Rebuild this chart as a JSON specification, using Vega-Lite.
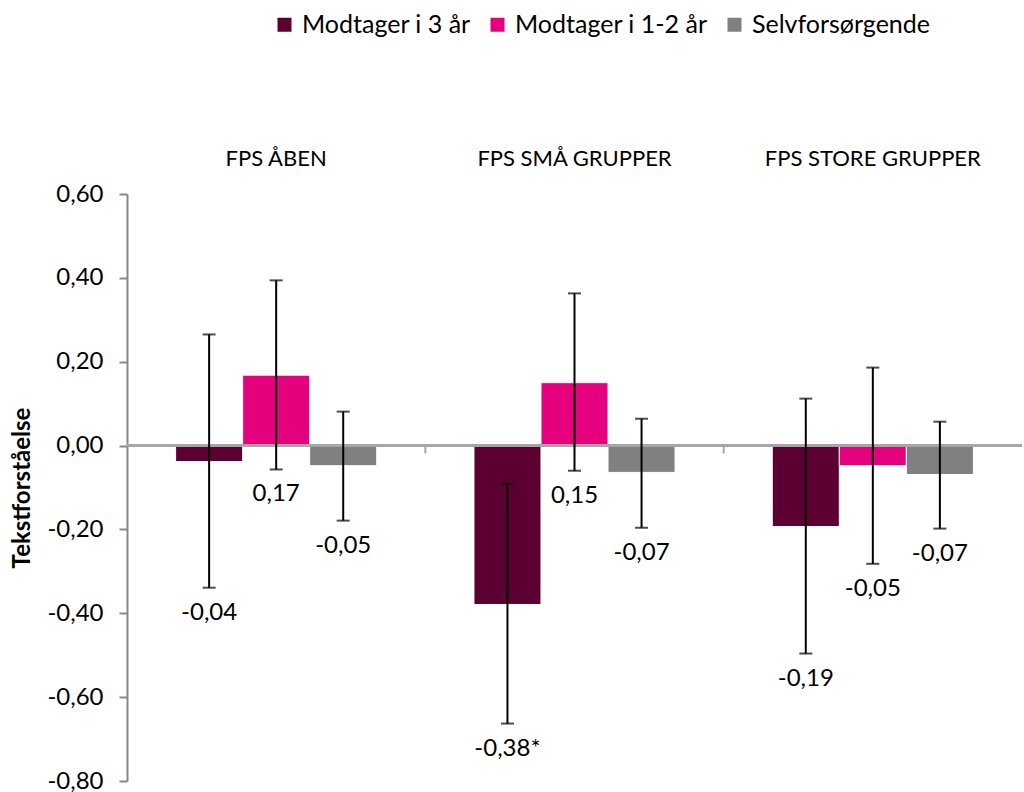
{
  "$schema": "https://vega.github.io/schema/vega-lite/v6.json",
  "width": 895,
  "height": 587,
  "autosize": {"type": "none"},
  "padding": {"left": 127, "top": 194, "right": 2, "bottom": 11},
  "background": "white",
  "config": {"font": "Lato", "view": {"stroke": null}},
  "data": {
    "values": [
      {"group": "FPS ÅBEN", "serie": "Modtager i 3 år", "value": -0.038, "lo": -0.339, "hi": 0.265, "label": "-0,04"},
      {"group": "FPS ÅBEN", "serie": "Modtager i 1-2 år", "value": 0.168, "lo": -0.057, "hi": 0.394, "label": "0,17"},
      {"group": "FPS ÅBEN", "serie": "Selvforsørgende", "value": -0.048, "lo": -0.179, "hi": 0.081, "label": "-0,05"},
      {"group": "FPS SMÅ GRUPPER", "serie": "Modtager i 3 år", "value": -0.379, "lo": -0.663, "hi": -0.091, "label": "-0,38*"},
      {"group": "FPS SMÅ GRUPPER", "serie": "Modtager i 1-2 år", "value": 0.15, "lo": -0.06, "hi": 0.363, "label": "0,15"},
      {"group": "FPS SMÅ GRUPPER", "serie": "Selvforsørgende", "value": -0.064, "lo": -0.196, "hi": 0.064, "label": "-0,07"},
      {"group": "FPS STORE GRUPPER", "serie": "Modtager i 3 år", "value": -0.193, "lo": -0.496, "hi": 0.112, "label": "-0,19"},
      {"group": "FPS STORE GRUPPER", "serie": "Modtager i 1-2 år", "value": -0.048, "lo": -0.282, "hi": 0.186, "label": "-0,05"},
      {"group": "FPS STORE GRUPPER", "serie": "Selvforsørgende", "value": -0.069, "lo": -0.198, "hi": 0.057, "label": "-0,07"}
    ]
  },
  "layer": [
    {
      "mark": {"type": "bar", "stroke": "white", "strokeWidth": 1},
      "encoding": {
        "x": {
          "field": "group", "type": "nominal",
          "sort": ["FPS ÅBEN", "FPS SMÅ GRUPPER", "FPS STORE GRUPPER"],
          "scale": {"paddingInner": 0, "paddingOuter": 0},
          "axis": {"orient": "top", "title": null, "domain": false, "ticks": false, "labelFontSize": 22, "labelAngle": 0, "labelPadding": 24, "labelColor": "black", "labelFont": "Lato", "labelLimit": 400}
        },
        "xOffset": {
          "field": "serie", "type": "nominal",
          "sort": ["Modtager i 3 år", "Modtager i 1-2 år", "Selvforsørgende"],
          "scale": {"paddingInner": 0, "paddingOuter": 0.725}
        },
        "y": {
          "field": "value", "type": "quantitative",
          "scale": {"domain": [-0.8, 0.6], "nice": false, "zero": false},
          "axis": {
            "values": [-0.8, -0.6, -0.4, -0.2, 0, 0.2, 0.4, 0.6],
            "labelExpr": "(datum.value < -0.0001 ? '-' : '') + replace(format(abs(datum.value), '.2f'), '.', ',')",
            "grid": false, "domainColor": "#888888", "domainWidth": 2, "tickColor": "#888888", "tickWidth": 2, "tickSize": 8,
            "labelFontSize": 24, "labelColor": "black", "labelPadding": 16,
            "title": "Tekstforståelse", "titleFontSize": 24, "titleFontWeight": "bold", "titleColor": "black", "titlePadding": 12
          }
        },
        "color": {
          "field": "serie", "type": "nominal",
          "sort": ["Modtager i 3 år", "Modtager i 1-2 år", "Selvforsørgende"],
          "scale": {"domain": ["Modtager i 3 år", "Modtager i 1-2 år", "Selvforsørgende"], "range": ["#5C0031", "#E5007D", "#808080"]},
          "legend": {
            "orient": "none", "legendX": 145, "legendY": -182, "direction": "horizontal", "title": null,
            "symbolType": "square", "symbolSize": 196, "symbolStrokeWidth": 0, "labelFontSize": 25, "labelColor": "black",
            "labelOffset": 5, "columnPadding": 14, "padding": 0, "labelLimit": 400
          }
        }
      }
    },
    {
      "mark": {"type": "rule", "color": "#A6A6A6", "strokeWidth": 2},
      "encoding": {"y": {"datum": 0}}
    },
    {
      "transform": [{"filter": "datum.serie == 'Selvforsørgende' && datum.group != 'FPS ÅBEN'"}],
      "mark": {"type": "rule", "color": "#A6A6A6", "strokeWidth": 2},
      "encoding": {
        "x": {"field": "group", "type": "nominal", "sort": ["FPS ÅBEN", "FPS SMÅ GRUPPER", "FPS STORE GRUPPER"], "bandPosition": 0},
        "y": {"datum": 0},
        "y2": {"datum": -0.019}
      }
    },
    {
      "mark": {"type": "rule", "color": "black", "strokeWidth": 2},
      "encoding": {
        "x": {"field": "group", "type": "nominal", "sort": ["FPS ÅBEN", "FPS SMÅ GRUPPER", "FPS STORE GRUPPER"]},
        "xOffset": {"field": "serie", "type": "nominal", "sort": ["Modtager i 3 år", "Modtager i 1-2 år", "Selvforsørgende"]},
        "y": {"field": "lo", "type": "quantitative"},
        "y2": {"field": "hi"}
      }
    },
    {
      "mark": {"type": "tick", "color": "black", "thickness": 2, "size": 13, "orient": "horizontal"},
      "encoding": {
        "x": {"field": "group", "type": "nominal", "sort": ["FPS ÅBEN", "FPS SMÅ GRUPPER", "FPS STORE GRUPPER"]},
        "xOffset": {"field": "serie", "type": "nominal", "sort": ["Modtager i 3 år", "Modtager i 1-2 år", "Selvforsørgende"]},
        "y": {"field": "lo", "type": "quantitative"}
      }
    },
    {
      "mark": {"type": "tick", "color": "black", "thickness": 2, "size": 13, "orient": "horizontal"},
      "encoding": {
        "x": {"field": "group", "type": "nominal", "sort": ["FPS ÅBEN", "FPS SMÅ GRUPPER", "FPS STORE GRUPPER"]},
        "xOffset": {"field": "serie", "type": "nominal", "sort": ["Modtager i 3 år", "Modtager i 1-2 år", "Selvforsørgende"]},
        "y": {"field": "hi", "type": "quantitative"}
      }
    },
    {
      "mark": {"type": "text", "fontSize": 24, "color": "black", "baseline": "middle", "dy": 25},
      "encoding": {
        "x": {"field": "group", "type": "nominal", "sort": ["FPS ÅBEN", "FPS SMÅ GRUPPER", "FPS STORE GRUPPER"]},
        "xOffset": {"field": "serie", "type": "nominal", "sort": ["Modtager i 3 år", "Modtager i 1-2 år", "Selvforsørgende"]},
        "y": {"field": "lo", "type": "quantitative"},
        "text": {"field": "label"}
      }
    }
  ]
}
